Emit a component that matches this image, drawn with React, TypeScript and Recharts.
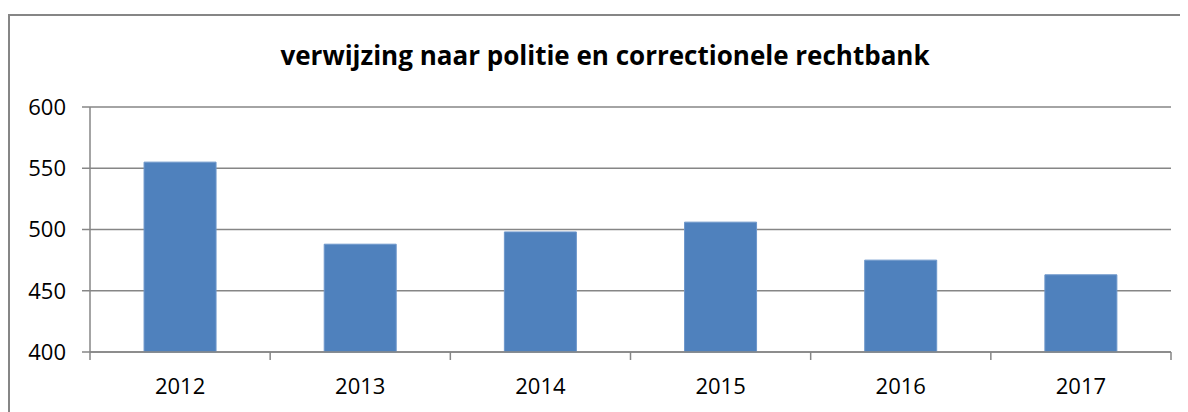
import { BarChart, Bar, XAxis, YAxis, CartesianGrid } from "recharts";

const years = ["2012", "2013", "2014", "2015", "2016", "2017"];
const counts = [555, 488, 498, 506, 475, 463];
const yTicks = [400, 450, 500, 550, 600];

const title = "verwijzing naar politie en correctionele rechtbank";

const data = years.map((year, i) => ({ year, count: counts[i] }));

const FONT = "'Open Sans', sans-serif";
const GRID = "#868686";

// category ticks sit on the band edges, not the band centres
/* eslint-disable @typescript-eslint/no-explicit-any */
function YearTick({ x, y, payload, index }: any) {
  const half = payload?.offset ?? 0;
  const last = index === years.length - 1;
  return (
    <g>
      <line x1={x - half} x2={x - half} y1={y} y2={y + 8} stroke={GRID} strokeWidth={1.5} />
      {last && <line x1={x + half} x2={x + half} y1={y} y2={y + 8} stroke={GRID} strokeWidth={1.5} />}
      <text x={x} y={y + 26} dy="0.71em" textAnchor="middle" fill="#000" fontSize={22} fontFamily={FONT}>
        {payload.value}
      </text>
    </g>
  );
}
/* eslint-enable @typescript-eslint/no-explicit-any */

export default function App() {
  return (
    <div
      style={{
        position: "relative",
        marginTop: 6,
        width: 1194,
        height: 400,
        border: `2px solid ${GRID}`,
        boxSizing: "border-box",
        background: "#fff",
        fontFamily: FONT,
      }}
    >
      <div
        style={{
          position: "absolute",
          top: 21,
          left: 0,
          width: "100%",
          textAlign: "center",
          fontSize: 26,
          fontWeight: 700,
          color: "#000",
        }}
      >
        {title}
      </div>
      <div style={{ position: "absolute", top: -2, left: -2 }}>
        <BarChart
          width={1194}
          height={400}
          data={data}
          margin={{ top: 93, right: 31, bottom: 0, left: 0 }}
          barCategoryGap="30%"
        >
          <CartesianGrid stroke={GRID} strokeWidth={1.5} vertical={false} />
          <XAxis
            dataKey="year"
            height={62}
            axisLine={{ stroke: GRID, strokeWidth: 1.5 }}
            tickLine={false}
            tickSize={0}
            tickMargin={0}
            interval={0}
            tick={<YearTick />}
          />
          <YAxis
            domain={[400, 600]}
            ticks={yTicks}
            width={82}
            axisLine={{ stroke: GRID, strokeWidth: 1.5 }}
            tickSize={8}
            tickMargin={16}
            tickLine={{ stroke: GRID, strokeWidth: 1.5 }}
            tick={{ fill: "#000", fontSize: 22, fontFamily: FONT }}
          />
          <Bar dataKey="count" fill="#4F81BD" stroke="#6D97CB" strokeWidth={1} isAnimationActive={false} />
        </BarChart>
      </div>
    </div>
  );
}
